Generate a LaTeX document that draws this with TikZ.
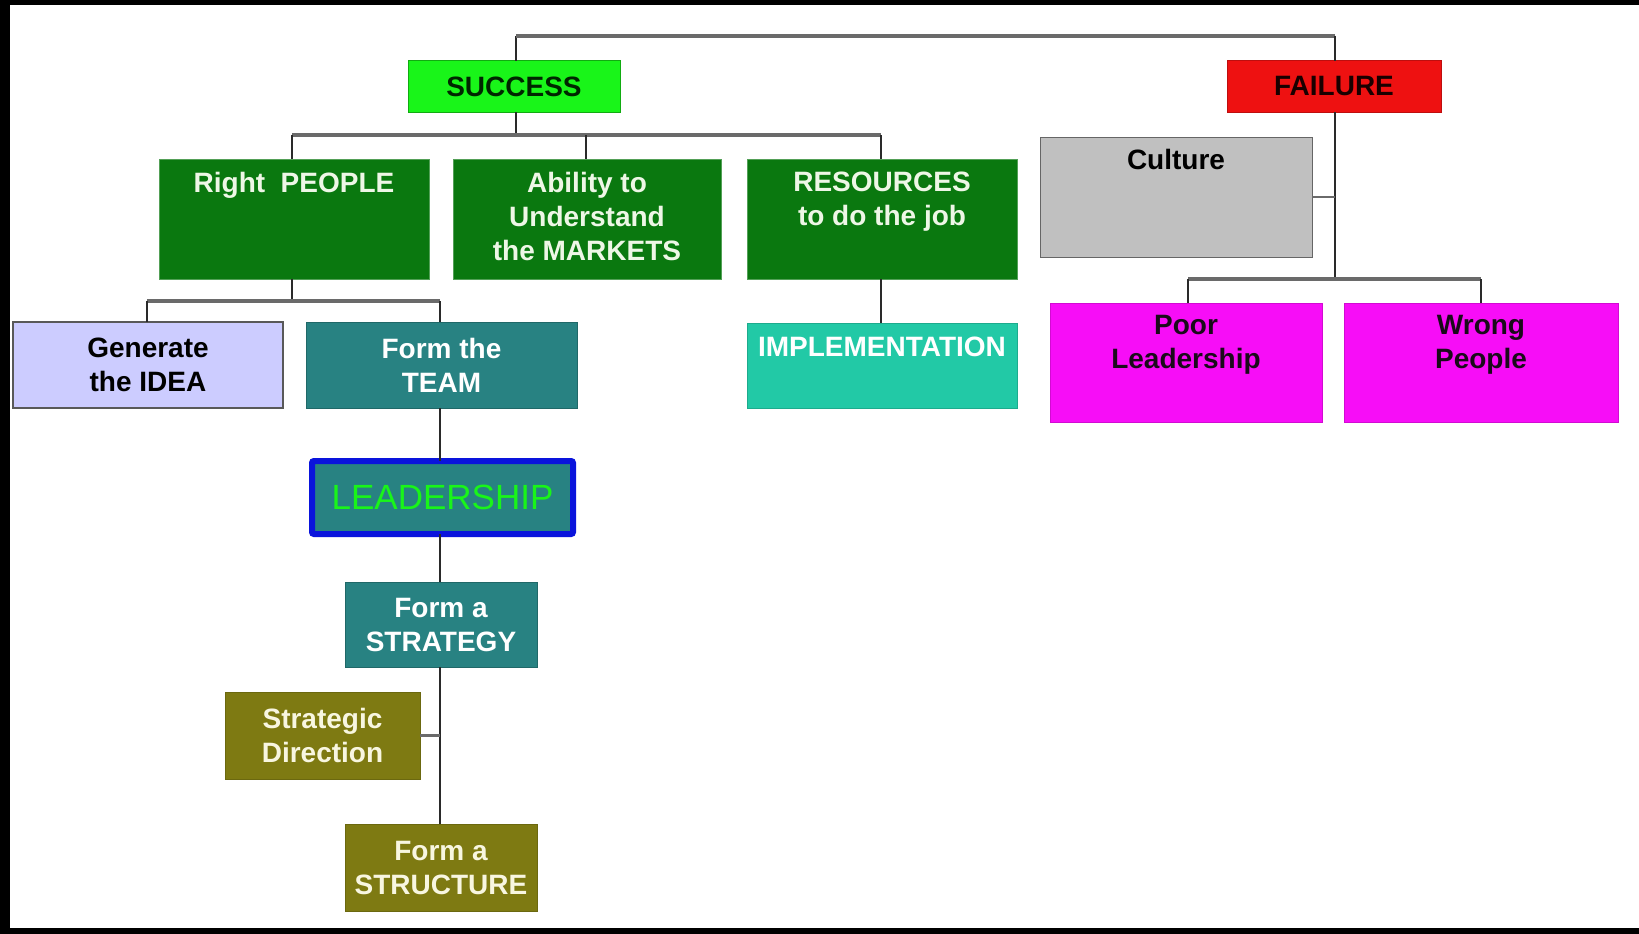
\documentclass[tikz,border=0pt]{standalone}
\usepackage{fontspec}
\setmainfont{Liberation Sans}
\definecolor{succgreen}{HTML}{19F519}
\definecolor{failred}{HTML}{EE1111}
\definecolor{dkgreen}{HTML}{0A780F}
\definecolor{lavender}{HTML}{CCCCFF}
\definecolor{tealbox}{HTML}{288282}
\definecolor{turq}{HTML}{22C9A6}
\definecolor{olivebox}{HTML}{7E7A12}
\definecolor{graybox}{HTML}{C0C0C0}
\definecolor{magbox}{HTML}{F70DF7}
\definecolor{blueborder}{HTML}{0A14DC}
\definecolor{leadgreen}{HTML}{19F519}
\definecolor{paletext}{HTML}{EEF7E6}
\definecolor{creamtext}{HTML}{F8F6E0}
\definecolor{barcol}{HTML}{6A6A6A}
\definecolor{vcol}{HTML}{2A2A2A}
\definecolor{darktext}{HTML}{1A0A1A}
\begin{document}
\begin{tikzpicture}[x=1pt,y=-1pt,
  bx/.style={anchor=north west, inner sep=0pt, outer sep=0pt, draw=black!50, line width=1pt,
    align=center, font=\bfseries\fontsize{28}{34}\selectfont},
  lbl/.style={anchor=north, inner sep=0pt, align=center, font=\bfseries\fontsize{28}{34}\selectfont},
  hbar/.style={draw=barcol, line width=3.5pt},
  vln/.style={draw=vcol, line width=2pt}
]
% frame
\fill[black] (0,0) rectangle (1639,934);
\fill[white] (10,5) rectangle (1639,928);

% top level
\node[bx, fill=succgreen, draw=succgreen!70!black, text=black!85!green, minimum width=212pt, minimum height=51pt] (succ) at (408,61) {SUCCESS};
\node[bx, fill=failred, draw=failred!80!black, text=black!90!red, minimum width=214pt, minimum height=51pt] (fail) at (1227,61) {FAILURE};

% success children
\node[bx, fill=dkgreen, draw=dkgreen!70!white, minimum width=270pt, minimum height=120pt] (rp) at (159,159) {};
\node[lbl, text=paletext] (rpT) at ([yshift=-13pt]rp.north) {Right\ \ PEOPLE};
\node[bx, fill=dkgreen, draw=dkgreen!70!white, minimum width=268pt, minimum height=120pt] (ab) at (453,159) {};
\node[lbl, text=paletext] (abT) at ([yshift=-13pt]ab.north) {Ability to\\Understand\\the MARKETS};
\node[bx, fill=dkgreen, draw=dkgreen!70!white, minimum width=270pt, minimum height=120pt] (res) at (747,159) {};
\node[lbl, text=paletext] (resT) at ([yshift=-13pt]res.north) {RESOURCES\\to do the job};

% failure children
\node[bx, fill=graybox, draw=black!60, minimum width=272pt, minimum height=120pt] (cult) at (1040,137) {};
\node[lbl, text=black] (cultT) at ([yshift=-12pt]cult.north) {Culture};
\node[bx, fill=magbox, draw=magbox!85!black, minimum width=272pt, minimum height=119pt] (poor) at (1050,303) {};
\node[lbl, text=darktext] (poorT) at ([yshift=-12pt]poor.north) {Poor\\Leadership};
\node[bx, fill=magbox, draw=magbox!85!black, minimum width=274pt, minimum height=119pt] (wrong) at (1344,303) {};
\node[lbl, text=darktext] (wrongT) at ([yshift=-12pt]wrong.north) {Wrong\\People};

% right people children
\node[bx, fill=lavender, draw=black!65, line width=2pt, text=black, minimum width=270pt, minimum height=86pt] (gen) at (13,322) {Generate\\the IDEA};
\node[bx, fill=tealbox, draw=tealbox!80!black, text=white, minimum width=271pt, minimum height=86pt] (team) at (306,322) {Form the\\TEAM};

% implementation
\node[bx, fill=turq, draw=turq!85!black, minimum width=270pt, minimum height=85pt] (impl) at (747,323) {};
\node[lbl, text=white] (implT) at ([yshift=-14pt]impl.north) {IMPLEMENTATION};

% leadership chain
\node[bx, fill=tealbox, draw=blueborder, line width=6pt, rounded corners=2pt, text=leadgreen,
  font=\fontsize{35}{40}\selectfont, minimum width=261pt, minimum height=73pt] (lead) at (312,461) {LEADERSHIP};
\node[bx, fill=tealbox, draw=tealbox!80!black, text=white, minimum width=192pt, minimum height=85pt] (strat) at (345,582) {Form a\\STRATEGY};
\node[bx, fill=olivebox, draw=olivebox!85!black, text=creamtext, minimum width=195pt, minimum height=87pt] (sd) at (225,692) {Strategic\\Direction};
\node[bx, fill=olivebox, draw=olivebox!85!black, text=creamtext, minimum width=192pt, minimum height=87pt] (struct) at (345,824) {Form a\\STRUCTURE};

% connectors: top
\coordinate (topL) at (516,36);
\coordinate (topR) at (1335,36);
\draw[vln] (succ.north -| topL) -- (topL);
\draw[hbar] (topL) -- (topR);
\draw[vln] (topR) -- (fail.north -| topR);

% success to children
\coordinate (sbar) at (516,135);
\coordinate (sbarL) at (292,135);
\coordinate (sbarM) at (586,135);
\coordinate (sbarR) at (881,135);
\draw[vln] (succ.south -| sbar) -- (sbar);
\draw[hbar] (sbarL) -- (sbarR);
\draw[vln] (sbarL) -- (rp.north -| sbarL);
\draw[vln] (sbarM) -- (ab.north -| sbarM);
\draw[vln] (sbarR) -- (res.north -| sbarR);

% right people to children
\coordinate (rbar) at (292,301);
\coordinate (rbarL) at (147,301);
\coordinate (rbarR) at (440,301);
\draw[vln] (rp.south -| rbar) -- (rbar);
\draw[hbar] (rbarL) -- (rbarR);
\draw[vln] (rbarL) -- (gen.north -| rbarL);
\draw[vln] (rbarR) -- (team.north -| rbarR);

% resources to implementation
\draw[vln] (res.south -| sbarR) -- (impl.north -| sbarR);

% chain
\coordinate (cx) at (440,0);
\draw[vln] (team.south -| cx) -- (lead.north -| cx);
\draw[vln] (lead.south -| cx) -- (strat.north -| cx);
\draw[vln] (strat.south -| cx) -- (struct.north -| cx);
\draw[hbar, line width=2.5pt] (sd.east) -- (sd.east -| cx);

% failure side
\coordinate (fbar) at (1335,279);
\coordinate (fbarL) at (1188,279);
\coordinate (fbarR) at (1481,279);
\draw[vln] (fail.south -| fbar) -- (fbar);
\draw[hbar, line width=2.5pt] (cult.east) -- (cult.east -| fbar);
\draw[hbar] (fbarL) -- (fbarR);
\draw[vln] (fbarL) -- (poor.north -| fbarL);
\draw[vln] (fbarR) -- (wrong.north -| fbarR);
\end{tikzpicture}
\end{document}
